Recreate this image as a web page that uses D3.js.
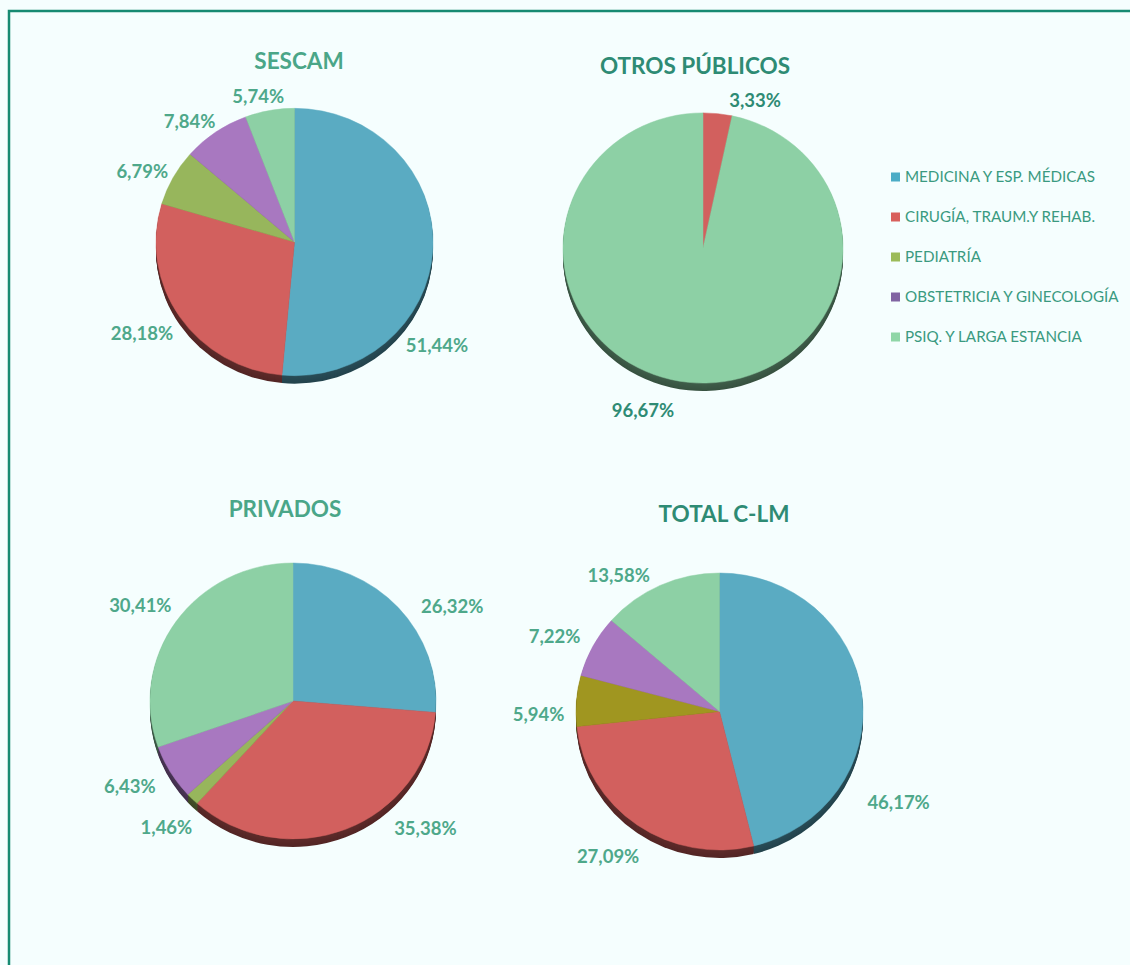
<!DOCTYPE html>
<html>
<head>
<meta charset="utf-8">
<script src="https://d3js.org/d3.v7.min.js"></script>
<style>
body { margin: 0; background: #f5fefe; }
text { font-family: Lato, sans-serif; }
</style>
</head>
<body>
<svg id="chart" width="1130" height="965"></svg>
<script>
// categories (legend order)
var categories = ["MEDICINA Y ESP. MÉDICAS", "CIRUGÍA, TRAUM.Y REHAB.", "PEDIATRÍA",
                  "OBSTETRICIA Y GINECOLOGÍA", "PSIQ. Y LARGA ESTANCIA"];

// percentages per group
var sescam        = [51.44, 28.18, 6.79, 7.84, 5.74];
var otrosPublicos = [0, 3.33, 0, 0, 96.67];
var privados      = [26.32, 35.38, 1.46, 6.43, 30.41];
var totalClm      = [46.17, 27.09, 5.94, 7.22, 13.58];

var titles = ["SESCAM", "OTROS PÚBLICOS", "PRIVADOS", "TOTAL C-LM"];

// colours
var sliceColors  = ["#5aabc2", "#d2605e", "#97b65c", "#a878c0", "#8dd0a5"];
var legendColors = ["#4bacc6", "#d8605c", "#9bbb59", "#8064a2", "#8fd6a7"];
var lightText = "#4ea88a", darkText = "#2e8b74";

// layout of the four pies; label = [angle from 12 o'clock clockwise, distance from centre]
var panels = [
  {data: sescam, title: titles[0], cx: 294.5, cy: 242, r: 138.5, tx: 299, ty: 69,
   titleColor: "#4aa688", labelColor: lightText,
   label: [[126, 176], [239, 178], [295, 168], [319, 160], [346, 150]]},
  {data: otrosPublicos, title: titles[1], cx: 703, cy: 248, r: 140, tx: 695, ty: 74,
   titleColor: darkText, labelColor: darkText,
   label: [null, [19.4, 157], null, null, [200.3, 173]]},
  {data: privados, title: titles[2], cx: 293, cy: 701, r: 143, tx: 285, ty: 517,
   titleColor: "#4aa688", labelColor: lightText,
   label: [[59.4, 185], [134, 184], [225, 179], [242.5, 184], [302, 180]]},
  {data: totalClm, title: titles[3], cx: 719.5, cy: 711.5, r: 143.5, tx: 724, ty: 522,
   titleColor: darkText, labelColor: lightText,
   label: [[117, 201], [217.5, 183], [269, 181], [294.4, 181], [323.4, 169]],
   colors: ["#5aabc2", "#d2605e", "#a09620", "#a878c0", "#8dd0a5"]}
];

var squash = 0.965;   // slight vertical flattening
var depth = 8;        // 3d side thickness

var svg = d3.select("#chart");

svg.append("rect").attr("width", 1130).attr("height", 965).attr("fill", "#f5fefe");
svg.append("path")
  .attr("d", "M9,965 L9,11 L1130,11")
  .attr("fill", "none")
  .attr("stroke", "#178a72")
  .attr("stroke-width", 2.5);

var pie = d3.pie().sort(null).value(function(d) { return d; });
var fmt = function(v) { return d3.format(".2f")(v).replace(".", ",") + "%"; };

panels.forEach(function(p) {
  var colors = p.colors || sliceColors;
  var arcs = pie(p.data).filter(function(a) { return a.value > 0; });
  var arc = d3.arc().innerRadius(0).outerRadius(p.r);

  // side / shadow layers
  for (var k = depth; k >= 1; k--) {
    svg.append("g")
      .attr("transform", "translate(" + p.cx + "," + (p.cy + k) + ") scale(1," + squash + ")")
      .selectAll("path")
      .data(arcs)
      .enter().append("path")
      .attr("d", arc)
      .attr("fill", function(a) { return d3.color(colors[a.index]).darker(2.2 + k * 0.05); });
  }

  svg.append("g")
    .attr("transform", "translate(" + p.cx + "," + p.cy + ") scale(1," + squash + ")")
    .selectAll("path")
    .data(arcs)
    .enter().append("path")
    .attr("d", arc)
    .attr("fill", function(a) { return colors[a.index]; })
    .attr("stroke", function(a) { return colors[a.index]; })
    .attr("stroke-width", 0.5);

  svg.append("text")
    .attr("x", p.tx).attr("y", p.ty)
    .attr("text-anchor", "middle")
    .attr("font-size", 22.5).attr("font-weight", "bold")
    .attr("fill", p.titleColor)
    .text(p.title);

  // data labels
  svg.append("g").selectAll("text")
    .data(arcs)
    .enter().append("text")
    .attr("x", function(a) { var l = p.label[a.index]; return p.cx + l[1] * Math.sin(l[0] * Math.PI / 180); })
    .attr("y", function(a) { var l = p.label[a.index]; return p.cy - l[1] * Math.cos(l[0] * Math.PI / 180); })
    .attr("dy", "0.36em")
    .attr("text-anchor", "middle")
    .attr("font-size", 18.5).attr("font-weight", "bold")
    .attr("fill", p.labelColor)
    .text(function(a) { return fmt(a.value); });
});

// legend
var legend = svg.append("g").attr("transform", "translate(891,177)");
var ly = d3.scaleBand().domain(categories).range([0, 200]);
categories.forEach(function(name, i) {
  legend.append("rect")
    .attr("x", 0).attr("y", ly(name) - 4.5)
    .attr("width", 9).attr("height", 9)
    .attr("fill", legendColors[i]);
  legend.append("text")
    .attr("x", 14).attr("y", ly(name))
    .attr("dy", "0.36em")
    .attr("font-size", 15.2)
    .attr("fill", "#3a9a80")
    .text(name);
});
</script>
</body>
</html>
